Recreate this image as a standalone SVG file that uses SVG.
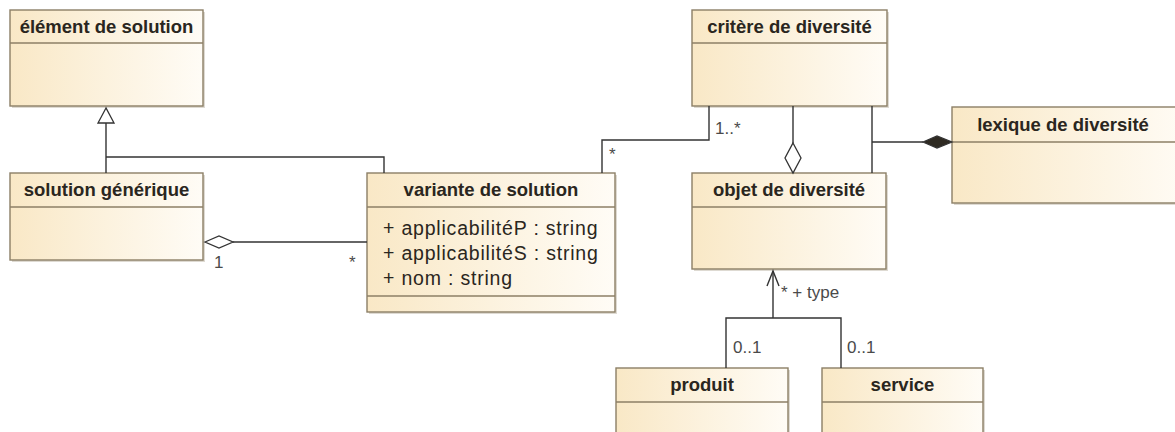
<svg xmlns="http://www.w3.org/2000/svg" width="1175" height="432" viewBox="0 0 1175 432">
<style>
.box{fill:url(#g);stroke:#8c7f66;stroke-width:1.4}
.sh{fill:#dedad2}
.div{stroke:#8c7f66;stroke-width:1.3}
.t{font-family:"Liberation Sans",Arial,sans-serif;font-weight:bold;font-size:18.5px;fill:#2a2620;text-anchor:middle}
.a{font-family:"Liberation Sans",Arial,sans-serif;font-size:19.5px;fill:#2a2620;letter-spacing:0.8px}
.l{font-family:"Liberation Sans",Arial,sans-serif;font-size:17px;fill:#4a4a4a}
.c{fill:none;stroke:#333;stroke-width:1.4}
</style>
<defs>
<linearGradient id="g" x1="0" y1="0" x2="1" y2="0">
<stop offset="0" stop-color="#f9e8c6"/>
<stop offset="1" stop-color="#fffcf6"/>
</linearGradient>
</defs>
<rect width="1175" height="432" fill="#ffffff"/>

<g id="element-de-solution">
<rect class="sh" x="12" y="12" width="193" height="96"/>
<rect class="box" x="10" y="10" width="193" height="96"/>
<line class="div" x1="10" y1="43" x2="203" y2="43"/>
<text class="t" x="106.5" y="33">élément de solution</text>
</g>

<g id="solution-generique">
<rect class="sh" x="12" y="175" width="193" height="87"/>
<rect class="box" x="10" y="173" width="193" height="87"/>
<line class="div" x1="10" y1="207" x2="203" y2="207"/>
<text class="t" x="106.5" y="196">solution générique</text>
</g>

<g id="variante-de-solution">
<rect class="sh" x="369" y="175" width="248" height="139"/>
<rect class="box" x="367" y="173" width="248" height="139"/>
<line class="div" x1="367" y1="207" x2="615" y2="207"/>
<line class="div" x1="367" y1="296" x2="615" y2="296"/>
<text class="t" x="491" y="196">variante de solution</text>
<text class="a" x="383" y="235">+ applicabilitéP : string</text>
<text class="a" x="383" y="260">+ applicabilitéS : string</text>
<text class="a" x="383" y="285">+ nom : string</text>
</g>

<g id="critere-de-diversite">
<rect class="sh" x="694" y="12" width="195" height="96"/>
<rect class="box" x="692" y="10" width="195" height="96"/>
<line class="div" x1="692" y1="43" x2="887" y2="43"/>
<text class="t" x="789.5" y="33">critère de diversité</text>
</g>

<g id="objet-de-diversite">
<rect class="sh" x="694" y="175" width="194" height="96"/>
<rect class="box" x="692" y="173" width="194" height="96"/>
<line class="div" x1="692" y1="207" x2="886" y2="207"/>
<text class="t" x="789" y="196">objet de diversité</text>
</g>

<g id="lexique-de-diversite">
<rect class="sh" x="954" y="109" width="240" height="96"/>
<rect class="box" x="952" y="107" width="240" height="96"/>
<line class="div" x1="952" y1="142" x2="1192" y2="142"/>
<text class="t" x="1063" y="131">lexique de diversité</text>
</g>

<g id="produit">
<rect class="sh" x="618" y="370" width="172" height="80"/>
<rect class="box" x="616" y="368" width="172" height="80"/>
<line class="div" x1="616" y1="402" x2="788" y2="402"/>
<text class="t" x="702" y="391">produit</text>
</g>

<g id="service">
<rect class="sh" x="824" y="370" width="161" height="80"/>
<rect class="box" x="822" y="368" width="161" height="80"/>
<line class="div" x1="822" y1="402" x2="983" y2="402"/>
<text class="t" x="902.5" y="391">service</text>
</g>

<g id="connectors">
<path class="c" d="M106,173 V123"/>
<path class="c" d="M384,173 V157 H106"/>
<polygon points="106,108 98,123 114,123" fill="#fff" stroke="#333" stroke-width="1.3"/>

<path class="c" d="M233,242 H367"/>
<polygon points="205,242 219,236 233,242 219,248" fill="#fff" stroke="#333" stroke-width="1.3"/>
<text class="l" x="214" y="268">1</text>
<text class="l" x="349" y="268">*</text>

<path class="c" d="M602,173 V140 H709 V106"/>
<text class="l" x="609" y="160">*</text>
<text class="l" x="715" y="134">1..*</text>

<path class="c" d="M793,106 V143"/>
<polygon points="793,143 801,158 793,173 785,158" fill="#fff" stroke="#333" stroke-width="1.3"/>

<path class="c" d="M872,106 V173 M872,142 H923"/>
<polygon points="923,142 937,136 952,142 937,148" fill="#2e2a22" stroke="#333" stroke-width="1.2"/>

<path class="c" d="M773,271 V318"/>
<path class="c" d="M726,368 V318 H841 V368"/>
<path class="c" d="M767,286 L773,271 L779,286"/>
<text class="l" x="781" y="298">* + type</text>
<text class="l" x="733" y="353">0..1</text>
<text class="l" x="847" y="353">0..1</text>
</g>
</svg>
